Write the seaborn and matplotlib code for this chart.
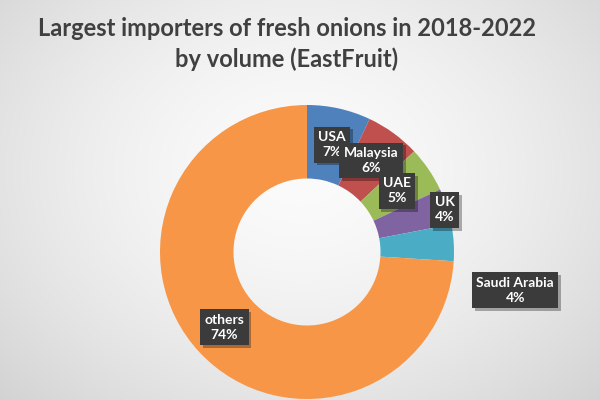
import numpy as np
import matplotlib
matplotlib.use("Agg")
import matplotlib.pyplot as plt
import matplotlib.patheffects as pe
import seaborn as sns

# ---- data ----
countries = ["USA", "Malaysia", "UAE", "UK", "Saudi Arabia", "others"]
shares = [7, 6, 5, 4, 4, 74]
pct_labels = ["7%", "6%", "5%", "4%", "4%", "74%"]
title = "Largest importers of fresh onions in 2018-2022\nby volume (EastFruit)"

# ---- style ----
sns.set_style("white")
plt.rcParams["font.family"] = ["Lato", "DejaVu Sans"]
colors = ["#4F81BD", "#C0504D", "#9BBB59", "#8064A2", "#4BACC6", "#F79646"]

# label placement (radius factor, angle offset in degrees)
label_r = [0.75, 0.76, 0.74, 0.98, 1.44, 0.76]
label_dang = [-0.5, 1, 0, -1, -14, -1]

W, H = 600, 400
fig = plt.figure(figsize=(6, 4), dpi=100)

# background radial gradient
bg = fig.add_axes([0, 0, 1, 1], zorder=0)
yy, xx = np.mgrid[0:H, 0:W]
d = np.sqrt(((xx - 300) / 420.0) ** 2 + ((yy - 170) / 330.0) ** 2)
val = 0.985 - 0.16 * np.clip(d, 0, 1.3) ** 1.6
bg.imshow(np.dstack([val, val, val]), extent=[0, 1, 0, 1], aspect="auto", origin="upper")
bg.set_axis_off()

# donut
cx, cy, R = 307, 252, 147
ax = fig.add_axes([(cx - R) / W, (H - cy - R) / H, 2 * R / W, 2 * R / H], zorder=1)
wedges, _ = ax.pie(shares, colors=colors, startangle=90, counterclock=False,
                   radius=1, wedgeprops=dict(width=0.5, linewidth=0))
ax.set_xlim(-1, 1)
ax.set_ylim(-1, 1)
ax.set_aspect("equal")
ax.set_axis_off()
ax.patch.set_alpha(0)

for i, w in enumerate(wedges):
    mid = np.deg2rad((w.theta1 + w.theta2) / 2 + label_dang[i])
    x = label_r[i] * np.cos(mid)
    y = label_r[i] * np.sin(mid)
    t = ax.text(x, y, f"{countries[i]}\n{pct_labels[i]}", ha="center", va="center",
                color="white", fontsize=10, fontweight="bold", linespacing=1.3,
                clip_on=False, zorder=5,
                bbox=dict(boxstyle="square,pad=0.32", facecolor="#3b3b3b",
                          edgecolor="none"))
    t.get_bbox_patch().set_path_effects(
        [pe.SimplePatchShadow(offset=(2, -2), shadow_rgbFace="#000000", alpha=0.3),
         pe.Normal()])

fig.text(0.478, 0.89, title, ha="center", va="center", fontsize=17,
         fontweight="bold", color="#404040", linespacing=1.35, zorder=3)

fig.savefig("out.png", dpi=100)
